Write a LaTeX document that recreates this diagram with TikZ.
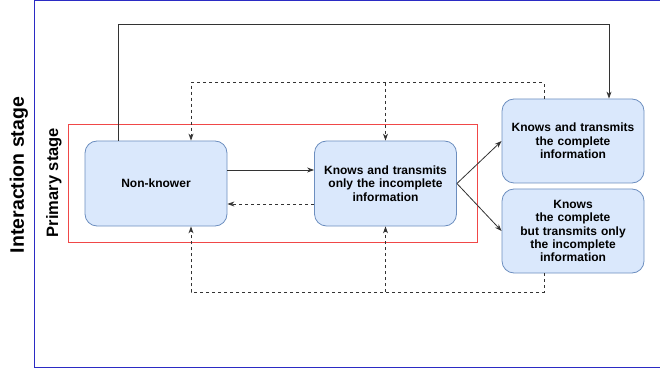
\documentclass[tikz,border=0pt]{standalone}
\usepackage{fontspec}
\setmainfont{Liberation Sans}
\usetikzlibrary{arrows.meta,positioning,calc}
\definecolor{boxfill}{HTML}{DAE8FC}
\definecolor{boxline}{HTML}{6C8EBF}
\definecolor{framered}{HTML}{F04848}
\definecolor{frameblue}{HTML}{2B2BC4}

\begin{document}
\begin{tikzpicture}[x=1pt,y=-1pt,
    state/.style={draw=boxline, fill=boxfill, rounded corners=12pt, line width=0.8pt,
      minimum width=142pt, minimum height=85pt, align=center, text width=134pt,
      font=\bfseries\fontsize{12}{13.4}\selectfont},
    flow/.style={-{Stealth[length=7pt,width=5pt]}, line width=0.8pt, black!80},
    back/.style={flow, dash pattern=on 3pt off 3pt}]
  \useasboundingbox (0,0) rectangle (660,371);
  % outer frame and primary stage
  \draw[frameblue, line width=1pt] (662,1) -- (34,1) -- (34,367) -- (662,367);
  \draw[framered, line width=1pt] (68,125) rectangle (477,242);
  \node[rotate=90, font=\bfseries\fontsize{19.5}{23}\selectfont] (inter) at (19,175) {Interaction stage};
  \node[rotate=90, font=\bfseries\fontsize{16.5}{20}\selectfont] (prim) at (54,182.5) {Primary stage};
  % states
  \node[state] (nk) at (156,183.5) {Non-knower};
  \node[state] (mid) at (385.5,183.5) {Knows and transmits\\only the incomplete\\information};
  \node[state, minimum height=84pt] (tr) at (573,141) {Knows and transmits\\the complete\\information};
  \node[state, minimum height=84pt] (br) at (573,231) {Knows\\the complete\\but transmits only\\the incomplete\\information};
  % transitions
  \draw[flow] ([xshift=-38pt]nk.north) -- ++(0,-116) -| ([xshift=36pt]tr.north);
  \draw[flow] ($(nk.east)+(0,-13.5)$) -- ($(mid.west)+(0,-13.5)$);
  \draw[back] ($(mid.west)+(0,20.5)$) -- ($(nk.east)+(0,20.5)$);
  \foreach \t in {tr,br} \draw[flow] (mid.east) -- (\t.west);
  \draw[back] ([xshift=-29pt]tr.north) -- ++(0,-16) -| ([xshift=35pt]nk.north);
  \draw[back] (mid.north |- 0,83) -- (mid.north);
  \draw[back] ([xshift=-29pt]br.south) -- ++(0,19) -| ([xshift=35pt]nk.south);
  \draw[back] (mid.south |- 0,292) -- (mid.south);
\end{tikzpicture}
\end{document}
